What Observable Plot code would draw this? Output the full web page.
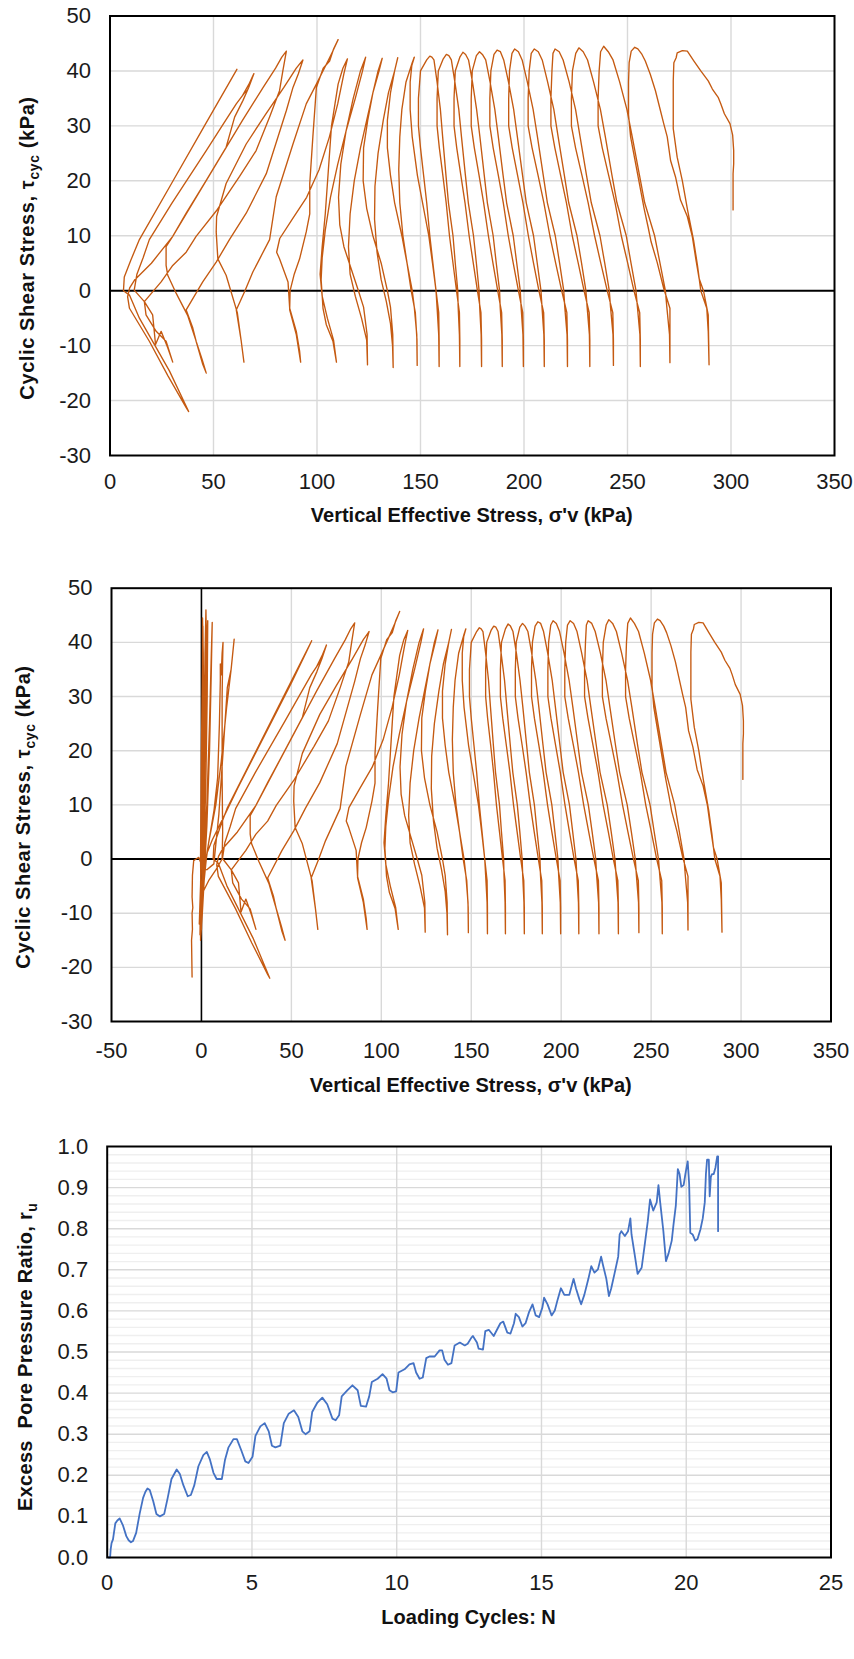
<!DOCTYPE html>
<html><head><meta charset="utf-8">
<script src="https://cdn.jsdelivr.net/npm/d3@7"></script>
<script src="https://cdn.jsdelivr.net/npm/@observablehq/plot@0.6"></script>
<style>
body{margin:0;background:#fff;width:854px;}
svg{display:block;}
</style></head><body><div id="chart"></div>
<script>
// ---------- tick values ----------
const sigmaTicksTop = [0, 50, 100, 150, 200, 250, 300, 350];
const sigmaTicksMid = [-50, 0, 50, 100, 150, 200, 250, 300, 350];
const tauTicks = [-30, -20, -10, 0, 10, 20, 30, 40, 50];
const cycleTicks = [0, 5, 10, 15, 20, 25];
const ruTicks = [0, 0.1, 0.2, 0.3, 0.4, 0.5, 0.6, 0.7, 0.8, 0.9, 1.0];

// ---------- stress path [σ'v, τcyc] (kPa), one array per loading cycle ----------
const cycle01 = [[301,14.7],[301,21.3],[301.3,23.1],[301.3,25.5],[300.8,28.3],[299.5,30.4],[296.8,32.2],[295.1,34],[293.8,35.2],[291,36.7],[289,38.2],[285.4,40],[282.1,41.8],[278.9,43.6],[276.5,43.7],[274,43.3],[273.5,42.4],[272.4,41.5],[272.1,38.2],[272.1,29.5],[274,24.3],[276.5,20],[279,14.7],[282,9],[283.8,4.6],[285.4,0],[288.3,-3.2],[289,-7.4],[289.4,-13.5]];
const cycle02 = [[289.2,-9],[289,-4.4],[286.7,0],[284.6,2.2],[283,5.8],[281.3,9.9],[278.9,13.5],[275.6,16.5],[273.2,20.7],[270.8,23.7],[269.2,28],[267.5,30.4],[265.9,32.8],[263.5,36.4],[261,39.4],[258.6,41.8],[257,43],[255,44],[253.5,44.3],[251.8,43.6],[250.8,41.5],[250.5,38],[250.5,32],[251.5,28],[253.5,24],[255.5,20],[258,15],[260,11.5],[261.4,8.9],[264.3,5.2],[267.5,0.4],[270.5,-3.2],[270.5,-8.6],[270.5,-13.1]];
const cycle03 = [[270.3,-8],[269,-3],[268.3,0],[265.7,5],[263.1,10],[258.3,16],[255.8,21],[252.3,28],[249.7,33],[246.2,38],[243,42],[240.7,43.5],[238.5,44.5],[237,43.5],[236.3,40],[235.8,35],[235.8,30],[237.8,26],[240.9,21],[244,16],[247,10],[250.1,5],[253.1,0],[255.9,-4],[256.2,-9],[256.2,-13.8]];
const cycle04 = [[256,-8],[254.8,-3],[254.1,0],[251.7,5],[249.4,10],[244.9,16],[242.5,21],[239.3,28],[236.9,33],[233.6,38],[230.7,42],[228.6,43.5],[226.5,44.2],[225,43.2],[223.4,40],[222.9,35],[222.9,30],[224.9,26],[228,21],[231,16],[234.1,10],[237.1,5],[240.2,0],[242.9,-4],[243.2,-9],[243.2,-13.6]];
const cycle05 = [[243,-8],[241.8,-3],[241.2,0],[239,5],[236.7,10],[232.5,16],[230.2,21],[227.1,28],[224.9,33],[221.8,38],[218.9,42],[217,43.5],[215,44],[214,43.2],[213.5,40],[213,35],[213,30],[214.9,26],[217.7,21],[220.5,16],[223.3,10],[226.2,5],[229,0],[231.5,-4],[231.8,-9],[231.8,-13.8]];
const cycle06 = [[231.6,-8],[230.5,-3],[229.9,0],[227.8,5],[225.6,10],[221.6,16],[219.5,21],[216.5,28],[214.4,33],[211.4,38],[208.8,42],[206.9,43.5],[205,44],[203.5,43.2],[202.5,40],[202,35],[202,30],[203.9,26],[206.8,21],[209.6,16],[212.5,10],[215.3,5],[218.2,0],[220.7,-4],[221,-9],[221,-13.8]];
const cycle07 = [[220.8,-8],[219.7,-3],[219.2,0],[217.2,5],[215.1,10],[211.3,16],[209.3,21],[206.5,28],[204.4,33],[201.6,38],[199.1,42],[197.3,43.5],[195.5,44],[194.2,43.2],[193,40],[192.6,35],[192.6,30],[194.3,26],[196.9,21],[199.5,16],[202.1,10],[204.6,5],[207.2,0],[209.5,-4],[209.8,-9],[209.8,-13.8]];
const cycle08 = [[209.6,-8],[208.7,-3],[208.2,0],[206.4,5],[204.6,10],[201.1,16],[199.3,21],[196.8,28],[195,33],[192.5,38],[190.2,42],[188.6,43.5],[187,43.8],[185.5,43],[184,40],[183.5,35],[183.5,30],[185.1,26],[187.6,21],[190,16],[192.4,10],[194.8,5],[197.3,0],[199.4,-4],[199.7,-9],[199.7,-13.8]];
const cycle09 = [[199.5,-8],[198.6,-3],[198.2,0],[196.5,5],[194.8,10],[191.6,16],[189.9,21],[187.6,28],[185.9,33],[183.6,38],[181.5,42],[179.9,43],[178.5,43.5],[177,42.8],[175,40],[174.5,35],[174.5,30],[176,26],[178.3,21],[180.5,16],[182.8,10],[185,5],[187.3,0],[189.2,-4],[189.5,-9],[189.5,-13.8]];
const cycle10 = [[189.3,-8],[188.5,-3],[188.2,0],[186.6,5],[185.1,10],[182.3,16],[180.8,21],[178.7,28],[177.1,33],[175.1,38],[173.2,42],[171.8,43],[170.5,43.4],[169,42.5],[166.8,40],[166.2,35],[166.2,30],[167.5,26],[169.5,21],[171.5,16],[173.5,10],[175.5,5],[177.5,0],[179.2,-4],[179.5,-9],[179.5,-13.8]];
const cycle11 = [[179.3,-8],[178.6,-3],[178.3,0],[177,5],[175.6,10],[173.1,16],[171.7,21],[169.8,28],[168.5,33],[166.6,38],[164.9,42],[163.7,42.8],[162.5,43],[161,42.2],[158.6,40],[158,35],[158,30],[159.1,26],[160.8,21],[162.4,16],[164,10],[165.7,5],[167.4,0],[168.8,-4],[169,-9],[169,-13.8]];
const cycle12 = [[168.8,-8],[168.2,-3],[168,0],[166.8,5],[165.7,10],[163.5,16],[162.3,21],[160.7,28],[159.6,33],[158,38],[156.5,42],[155.5,42.5],[154.5,42.7],[153,42],[150,40],[149,35],[149,30],[150,26],[151.5,21],[153,16],[154.5,10],[156,5],[157.5,0],[158.8,-4],[159,-9],[159,-13.8]];
const cycle13 = [[158.8,-8],[158,-3],[157.5,0],[155.8,5],[154,10],[151,16],[148.5,21],[146,28],[145,33],[145,38],[145.8,41],[147,42.5],[146,41.5],[143,38],[141,33],[140,28],[139.5,22],[140,16],[141.5,10],[143.5,5],[145.5,0],[147.5,-4],[148.3,-9],[148.4,-13.6]];
const cycle14 = [[148.2,-8],[147,-3],[146,0],[143.5,5],[141,10],[137.5,16],[135.5,21],[134,26],[134,31],[135.5,36],[137.5,40],[139,42.4],[137.5,40],[134.5,36],[132,31],[129.5,25],[128,19],[127.8,13],[129,7],[131,2],[133.5,-2],[135.5,-6],[136.5,-10],[136.8,-14]];
const cycle15 = [[136.6,-8],[135.5,-3],[134,0],[131,5],[127,10],[124,15],[122.3,20],[122.5,26],[124.5,31],[127,36],[129.5,40],[131.5,42.3],[130,40],[127,36],[124,31],[121,26],[118,20],[116,14],[115.2,8],[116,3],[118.5,-1],[121.5,-5],[124,-9],[124.4,-13.5]];
const cycle16 = [[124.2,-8],[122.5,-3],[120,0],[116.5,4],[113,8],[111,12],[110.4,17],[111.5,23],[114,29],[117.5,35],[121,40],[123.5,42.5],[122,40],[118.5,35],[114,29],[110,23],[106.5,17],[104,11],[102.5,6],[102,2],[102.9,-3.2],[104.5,-6.2],[107.7,-9.2],[109.4,-13]];
const cycle17 = [[108,-9],[105,-5],[102.5,-1],[101.5,3],[102.5,8],[104,14],[105.5,22],[107,30],[110.2,37.6],[112.5,40.5],[114.7,42.2],[113,39.5],[110,34],[106,28],[101,22],[95,17],[88,13],[82,9.5],[80.5,7],[81.9,5.8],[86,1.6],[86.8,-3.2],[90,-7.4],[91.6,-11],[92.1,-13]];
const cycle18 = [[90,-8],[86.8,-3.5],[87,0],[89,3],[91.6,5.8],[94.8,10.7],[96.5,14],[96.5,19.5],[98,28],[99.7,37],[103,40.5],[106.1,41.8],[108,44],[110.2,45.7],[107.5,43.5],[105.3,41.8],[99.7,37.6],[94.8,34],[88.4,26.7],[80.3,17.1],[77.1,9.3],[72.3,5.8],[69,3.4],[65,-0.2],[61,-3.5],[63.4,-9.2],[64.7,-13]];
const cycle19 = [[63.4,-9.2],[61.5,-4],[56.1,2.8],[52.1,5.8],[51.3,10.7],[51.5,13.5],[56.1,19.5],[65.8,26.7],[75,32],[84,37],[90,40.5],[93.2,42],[91,39.5],[88.4,37],[85.2,32.8],[75.5,21.3],[65.8,14.1],[57.7,9.3],[51.3,5.2],[44.8,1.6],[36.8,-3.5],[40,-6.8],[41.6,-9.2],[44.8,-13.4],[46.5,-15]];
const cycle20 = [[44.5,-12.5],[41,-8.5],[37.5,-4.5],[32,-0.5],[27.9,2.8],[27.1,4.6],[27.1,8],[30.3,9.9],[40,16],[52,23.5],[64,31],[74,37],[80,40.5],[83,42.5],[85.2,43.6],[83.5,40],[81.9,36.4],[77.1,31.6],[70.6,25.5],[62.6,20.8],[51.3,14.5],[41.6,9.9],[36.8,7],[30.3,4.6],[24.7,1.6],[16.6,-2],[17.4,-4.4],[22.3,-7.4],[27.1,-9.2],[30.3,-13]];
const cycle21 = [[27.9,-10.4],[24.7,-7.4],[22,-9.8],[20.6,-4.4],[16.6,-2],[11.7,0.1],[13,3],[16,6],[19,9.3],[30,16],[46.5,25.5],[55,30.5],[61,34],[65.8,36.4],[64,35.5],[67,37.5],[69,39.1],[69.5,39.5],[67,37],[64.2,34.6],[60.2,31.6],[56.1,26.1],[46.5,20.1],[36.8,14.1],[30.3,9.9],[20,5],[12,2],[9.5,0.5],[8.5,-1.1],[9.4,-3.2],[19,-9.2],[28,-15.5],[36.8,-21.3],[38,-22]];
const cycle22 = [[28.7,-14.6],[14.2,-5],[9.4,-0.8],[6.5,0],[6.9,2.5],[10,5.5],[14.2,9.3],[30,19.7],[45,29.6],[61.3,40.3]];
// later part of the record (liquefied state), shown only in the middle chart
const liquefiedTail = [[58,38],[50,32.5],[40,26],[30,19.5],[20,13],[12,7.5],[6,3.5],[3,1],[1.5,-4],[0.5,-10],[-0.5,-15],
  [0.5,-5],[1,10],[1.5,25],[2,38],[2.5,46],[2.8,40],[2.2,25],[1.5,10],[0.8,-3],[0,-12],[-0.8,-14],
  [-0.3,0],[0.2,15],[0.5,30],[0.6,44.5],[1,38],[1.2,25],[1.5,10],[1,0],[0.2,-8],[-0.5,-14.5],
  [0.5,-3],[1.5,12],[2.5,28],[3,40],[3.5,44],[3.2,30],[2.5,15],[1.5,2],[0.5,-8],[0,-13],
  [-0.5,0],[0,20],[0.8,43],[1.2,30],[0.5,5],[-1,-10],[-1.2,-12],
  [1,-2],[3,10],[4.5,25],[5.5,38],[6,43.7],[5.5,35],[4.5,20],[3,6],[1.5,-3],[0.5,-10],[-0.3,-14],
  [1,-4],[4,3],[7,9],[9,15],[10,25],[10.5,33],[10.5,36],[11,34],[11.5,38],[12,40],[11.8,37],[11.5,30],[11.5,15],[11.8,5],[11.5,0],[8,-2],[4,-4],[1,-6],[0,-10],[-0.5,-14],
  [1,-3],[4,3],[8,10],[11,18],[14,28],[16.5,35],[18.2,40.6],[16.5,35],[14.4,31.7],[12.2,20.6],[9.7,8.3],[6.9,-0.9],[3,-2],[0,-1],
  [-1.5,0.3],[-3,0],[-4.3,-0.3],[-5,-3],[-5.2,-7],[-4.8,-9],[-5.2,-10],[-5,-13],[-5.5,-15],[-5.2,-21.8]];

// ---------- excess pore pressure ratio [N, ru] ----------
const ruEarly = [[0.05,0],[0.1,0],[0.12,0.02],[0.15,0.035],[0.2,0.044],[0.28,0.083],[0.35,0.09],[0.43,0.095],[0.54,0.079],[0.66,0.052],[0.74,0.042],[0.82,0.037],[0.89,0.04],[1.0,0.06],[1.12,0.106],[1.24,0.145],[1.32,0.16],[1.39,0.168],[1.47,0.164],[1.59,0.137],[1.70,0.106],[1.82,0.1],[1.97,0.106],[2.09,0.145],[2.22,0.191],[2.40,0.214],[2.51,0.203],[2.63,0.176],[2.78,0.149],[2.89,0.152],[3.01,0.176],[3.15,0.222],[3.32,0.249],[3.44,0.257],[3.55,0.238],[3.67,0.206],[3.78,0.191],[3.96,0.191],[4.07,0.238],[4.19,0.268],[4.36,0.288],[4.48,0.288],[4.63,0.261],[4.77,0.234],[4.88,0.23],[5.02,0.245],[5.12,0.296],[5.29,0.319],[5.44,0.327],[5.58,0.307],[5.69,0.272],[5.81,0.268],[5.98,0.272],[6.10,0.327],[6.27,0.35],[6.45,0.358],[6.60,0.342],[6.74,0.307],[6.85,0.30],[6.99,0.307],[7.08,0.354],[7.26,0.377],[7.43,0.389],[7.60,0.373],[7.78,0.338],[7.89,0.334],[8.01,0.346],[8.10,0.392],[8.30,0.407],[8.47,0.419],[8.65,0.407],[8.76,0.369],[8.94,0.367],[9.05,0.392],[9.14,0.427],[9.34,0.435],[9.51,0.446],[9.65,0.435],[9.75,0.407],[9.86,0.402],[9.98,0.404]];
const ruMiddle = [[10.06,0.45],[10.27,0.458],[10.44,0.47],[10.58,0.473],[10.67,0.45],[10.79,0.435],[10.9,0.438],[11.02,0.485],[11.13,0.489],[11.31,0.489],[11.48,0.504],[11.57,0.504],[11.65,0.481],[11.77,0.469],[11.89,0.473],[12.00,0.516],[12.18,0.523],[12.35,0.516],[12.45,0.52],[12.58,0.535],[12.63,0.539],[12.77,0.523],[12.83,0.508],[12.98,0.506],[13.06,0.551],[13.18,0.554],[13.35,0.539],[13.58,0.570],[13.68,0.574],[13.82,0.547],[13.93,0.545],[14.05,0.570],[14.11,0.593],[14.22,0.585],[14.34,0.562],[14.45,0.570],[14.57,0.597],[14.69,0.616],[14.80,0.589],[14.92,0.585],[15.03,0.608],[15.09,0.632],[15.21,0.616],[15.35,0.589],[15.46,0.601],[15.56,0.628],[15.67,0.655],[15.79,0.639],[15.96,0.639]];
const ruLate = [[16.11,0.678],[16.19,0.655],[16.31,0.628],[16.37,0.616],[16.48,0.639],[16.62,0.678],[16.72,0.709],[16.83,0.693],[16.95,0.701],[17.06,0.732],[17.12,0.713],[17.24,0.678],[17.33,0.636],[17.41,0.655],[17.53,0.693],[17.65,0.732],[17.70,0.786],[17.76,0.794],[17.88,0.782],[17.99,0.794],[18.07,0.825],[18.11,0.786],[18.23,0.732],[18.32,0.690],[18.46,0.705],[18.57,0.763],[18.67,0.817],[18.75,0.871],[18.86,0.844],[18.98,0.864],[19.04,0.906],[19.10,0.864],[19.21,0.794],[19.30,0.721],[19.39,0.740],[19.50,0.771],[19.56,0.810],[19.64,0.856],[19.71,0.945],[19.77,0.933],[19.83,0.902],[19.91,0.906],[19.97,0.933],[20.05,0.964],[20.10,0.910],[20.14,0.790],[20.22,0.786],[20.31,0.771],[20.39,0.775],[20.49,0.798],[20.57,0.825],[20.64,0.864],[20.68,0.933],[20.72,0.968],[20.78,0.968],[20.81,0.879],[20.85,0.926],[20.89,0.933],[20.95,0.933],[21.01,0.949],[21.07,0.976],[21.1,0.976],[21.1,0.794]];

// ---------- assembly ----------
const stressPath = [cycle01, cycle02, cycle03, cycle04, cycle05, cycle06, cycle07, cycle08, cycle09, cycle10, cycle11,
  cycle12, cycle13, cycle14, cycle15, cycle16, cycle17, cycle18, cycle19, cycle20, cycle21, cycle22].flat();
const stressPathFull = stressPath.concat(liquefiedTail);
const ruSeries = ruEarly.concat(ruMiddle, ruLate);

const FONT = "'Liberation Sans', Arial, Helvetica, sans-serif";
const ORANGE = "#C55A11";
const BLUE = "#4472C4";
const GRID = "#d9d9d9";
const root = document.getElementById("chart");

function addTitles(svg, o) {
  const s = d3.select(svg);
  s.append("text")
    .attr("x", o.xc).attr("y", o.xy + 7)
    .attr("text-anchor", "middle")
    .attr("font-family", FONT).attr("font-weight", "bold").attr("font-size", 20).attr("fill", "#111")
    .text(o.xTitle);
  const t = s.append("text")
    .attr("transform", `translate(${o.yx + 7},${o.yy}) rotate(-90)`)
    .attr("text-anchor", "middle")
    .attr("font-family", FONT).attr("font-weight", "bold").attr("font-size", 20).attr("fill", "#111")
    .attr("letter-spacing", o.ls || 0)
    .attr("xml:space", "preserve");
  t.append("tspan").text(o.yMain);
  t.append("tspan").attr("font-size", 14).attr("dy", 5).text(o.ySub);
  if (o.yEnd) t.append("tspan").attr("font-size", 20).attr("dy", -5).text(o.yEnd);
}

function stressPanel(o) {
  const svg = Plot.plot({
    width: 854, height: o.height,
    marginTop: o.mt, marginBottom: o.mb, marginLeft: o.ml, marginRight: o.mr,
    style: {fontFamily: FONT, fontSize: "22px", color: "#1a1a1a", background: "white"},
    x: {domain: o.xDomain},
    y: {domain: [-30, 50]},
    marks: [
      Plot.gridX(o.xTicks.filter(v => v > o.xDomain[0] && v < o.xDomain[1] && v !== 0), {stroke: GRID, strokeOpacity: 1, strokeWidth: 1.4}),
      Plot.gridY(tauTicks.filter(v => v > -30 && v < 50 && v !== 0), {stroke: GRID, strokeOpacity: 1, strokeWidth: 1.4}),
      o.zeroX ? Plot.ruleX([0], {stroke: "black", strokeWidth: 1.6}) : null,
      Plot.ruleY([0], {stroke: "black", strokeWidth: 2}),
      Plot.line(o.path, {x: d => d[0], y: d => d[1], stroke: ORANGE, strokeWidth: 1.35, strokeLinejoin: "round"}),
      Plot.frame({stroke: "black", strokeWidth: 2}),
      Plot.axisX(o.xTicks, {tickSize: 0, tickPadding: o.xPad, label: null, tickFormat: d => String(d)}),
      Plot.axisY(tauTicks, {tickSize: 0, tickPadding: 19, label: null, tickFormat: d => String(d)})
    ]
  });
  addTitles(svg, {
    xTitle: "Vertical Effective Stress, σ'v (kPa)", xc: o.ml + (854 - o.ml - o.mr) / 2, xy: o.xTitleY,
    yMain: "Cyclic Shear Stress, τ", ySub: "cyc", yEnd: " (kPa)", yx: o.yTitleX, yy: o.yTitleY, ls: 0.6
  });
  root.appendChild(svg);
}

stressPanel({height: 530, mt: 15.5, mb: 75, ml: 109.5, mr: 20, xDomain: [0, 350], xTicks: sigmaTicksTop,
  path: stressPath, xPad: 18, xTitleY: 515, yTitleX: 27, yTitleY: 248});
stressPanel({height: 570, mt: 57.7, mb: 79, ml: 111, mr: 23.5, xDomain: [-50, 350], xTicks: sigmaTicksMid,
  path: stressPathFull, xPad: 21, xTitleY: 554.5, yTitleX: 23, yTitleY: 287, zeroX: true});

// ---------- pore pressure panel ----------
const ruMinor = d3.range(0.02, 1.0, 0.02).filter(v => Math.abs(v * 10 - Math.round(v * 10)) > 1e-6);
const ruSvg = Plot.plot({
  width: 854, height: 559,
  marginTop: 46, marginBottom: 102, marginLeft: 106.7, marginRight: 23.5,
  style: {fontFamily: FONT, fontSize: "22px", color: "#1a1a1a", background: "white"},
  x: {domain: [0, 25]},
  y: {domain: [0, 1]},
  marks: [
    Plot.gridY(ruMinor, {stroke: "#efefef", strokeOpacity: 1, strokeWidth: 1.4}),
    Plot.gridY(ruTicks.slice(1, -1), {stroke: GRID, strokeOpacity: 1, strokeWidth: 1.4}),
    Plot.gridX(cycleTicks.slice(1, -1), {stroke: GRID, strokeOpacity: 1, strokeWidth: 1.4}),
    Plot.line(ruSeries, {x: d => d[0], y: d => d[1], stroke: BLUE, strokeWidth: 1.8, strokeLinejoin: "round"}),
    Plot.frame({stroke: "black", strokeWidth: 2}),
    Plot.axisX(cycleTicks, {tickSize: 0, tickPadding: 17, label: null, tickFormat: d => String(d)}),
    Plot.axisY(ruTicks, {tickSize: 0, tickPadding: 19, label: null, tickFormat: d3.format(".1f")})
  ]
});
addTitles(ruSvg, {
  xTitle: "Loading Cycles: N", xc: 106.7 + (854 - 106.7 - 23.5) / 2, xy: 517,
  yMain: "Excess\u00a0 Pore Pressure Ratio, r", ySub: "u", yEnd: "", yx: 25, yy: 257, ls: 0.3
});
root.appendChild(ruSvg);
</script></body></html>
